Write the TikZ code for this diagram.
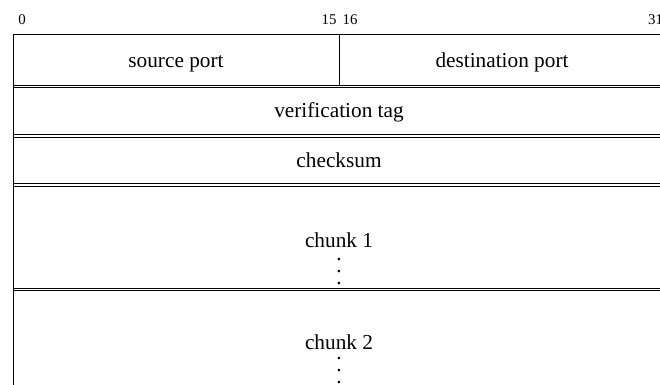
\documentclass[tikz,border=0pt]{standalone}
\usepackage{fontspec}
\setmainfont{Liberation Serif}
\newcommand{\myvdots}{\vbox{\baselineskip5.8pt\lineskiplimit-10pt\hbox{.}\hbox{.}\hbox{.}}}
\begin{document}
\begin{tikzpicture}[x=0.47pt,y=-0.47pt,
  rule/.style={line width=0.45pt},
  bitnum/.style={font=\fontsize{7}{8}\selectfont, inner sep=0pt, anchor=base},
  field/.style={font=\fontsize{10}{12}\selectfont, inner sep=0pt, anchor=base}]
\useasboundingbox (0,0) rectangle (660,385);
% bit numbers
\node[bitnum] (b0) at (22,25) {0};
\node[bitnum] (b15) at (329,25) {15};
\node[bitnum] (b16) at (350,25) {16};
\node[bitnum] (b31) at (655.6,25) {31};
% frame
\draw[rule] (13,34.5) -- (13,386);
\draw[rule] (13,34.5) -- (670,34.5);
\draw[rule] (339,34.5) -- (339,85);
% double separators
\foreach \y in {85,134.5,183.5,288}{
  \draw[rule] (13,\y) -- (670,\y);
  \draw[rule] (13,\y+2.6) -- (670,\y+2.6);
}
% fields
\node[field] (src) at (176,68) {source port};
\node[field] (dst) at (502,68) {destination port};
\node[field] (vtag) at (339,118) {verification tag};
\node[field] (csum) at (339,168) {checksum};
\node[field] (c1) at (339,248) {chunk 1};
\node[field] (c1d) at (339,285) {\myvdots};
\node[field] (c2) at (339,350) {chunk 2};
\node[field] (c2d) at (339,384) {\myvdots};
\end{tikzpicture}
\end{document}
